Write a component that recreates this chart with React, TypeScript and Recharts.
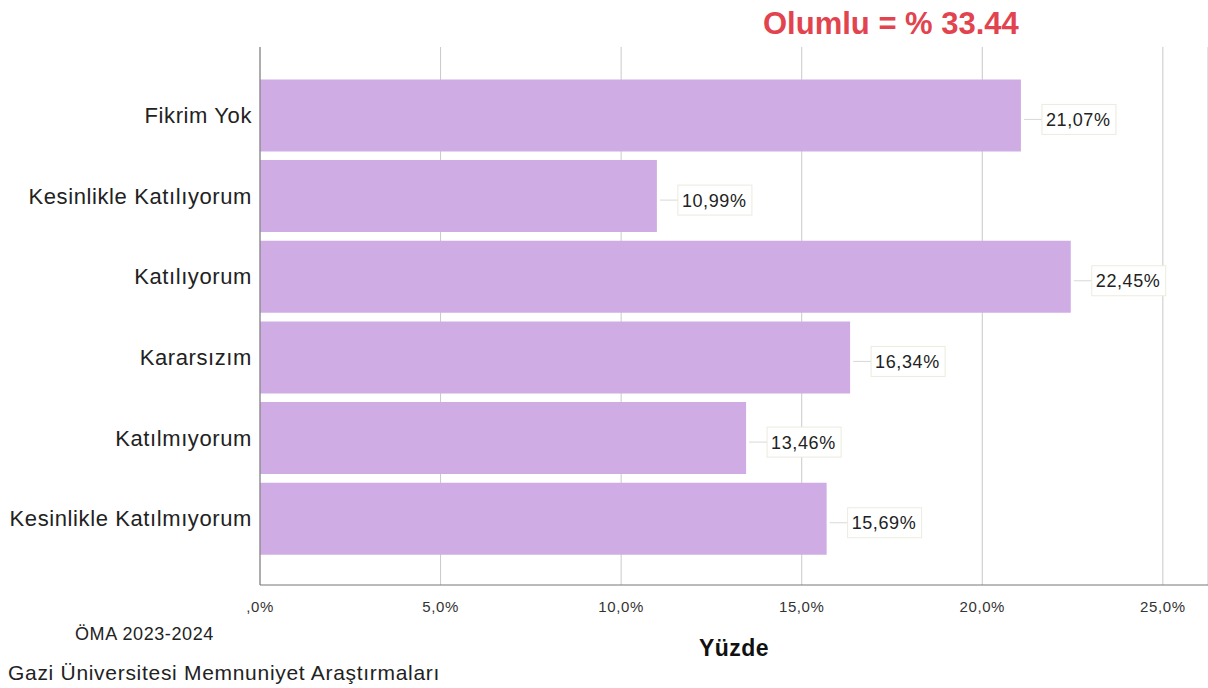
import { BarChart, Bar, XAxis, YAxis, CartesianGrid, LabelList } from "recharts";

const categories = [
  "Fikrim Yok",
  "Kesinlikle Katılıyorum",
  "Katılıyorum",
  "Kararsızım",
  "Katılmıyorum",
  "Kesinlikle Katılmıyorum",
];
const percents = [21.07, 10.99, 22.45, 16.34, 13.46, 15.69];
const xTicks = [0, 5, 10, 15, 20, 25];

const data = categories.map((name, i) => ({ name, value: percents[i] }));

const font = "'Liberation Sans', Arial, sans-serif";

const tickFmt = (v: number) => (v === 0 ? ",0%" : v.toFixed(1).replace(".", ",") + "%");

const ValueTag = (props: any) => {
  const { x, y, width, height, value } = props;
  const ex = x + width;
  const cy = y + height / 2 + 4;
  return (
    <g>
      <line x1={ex + 3} x2={ex + 21} y1={cy} y2={cy} stroke="#d8d8d8" />
      <rect x={ex + 21} y={cy - 15} width={74} height={30} fill="#fff" stroke="#ebebdf" />
      <text
        x={ex + 25}
        y={cy + 6.5}
        fontSize={18}
        fontFamily={font}
        letterSpacing={0.6}
        fill="#222"
      >
        {value.toFixed(2).replace(".", ",")}%
      </text>
    </g>
  );
};

const App = () => {
  return (
    <div style={{ position: "absolute", left: 0, top: 0, width: 1208, height: 688, background: "#fff" }}>
      <BarChart
        width={1208}
        height={688}
        data={data}
        layout="vertical"
        margin={{ top: 47, right: 0, bottom: 23, left: 5 }}
        barCategoryGap="5.5%"
      >
        <CartesianGrid horizontal={false} stroke="#c9c9c9" />
        <XAxis
          type="number"
          dataKey="value"
          domain={[0, 26.25]}
          ticks={xTicks}
          tickFormatter={tickFmt}
          axisLine={{ stroke: "#777" }}
          tickLine={false}
          tickSize={0}
          tickMargin={16}
          height={80}
          tick={{ fontSize: 15, fontFamily: font, fill: "#333", letterSpacing: 0.6 }}
          label={{
            value: "Yüzde",
            position: "insideBottom",
            offset: 9,
            style: { fontSize: 23, fontWeight: "bold", fontFamily: font, fill: "#111", letterSpacing: 0.5 },
          }}
        />
        <YAxis
          type="category"
          dataKey="name"
          width={255}
          padding={{ top: 28, bottom: 26 }}
          axisLine={{ stroke: "#777" }}
          tickLine={false}
          tickSize={0}
          tickMargin={8}
          tick={{ fontSize: 22, fontFamily: font, fill: "#222", letterSpacing: 0.6 }}
        />
        <Bar dataKey="value" fill="#cfade4" isAnimationActive={false}>
          <LabelList dataKey="value" content={<ValueTag />} />
        </Bar>
      </BarChart>
      <svg
        width={1208}
        height={688}
        style={{ position: "absolute", left: 0, top: 0, pointerEvents: "none" }}
      >
        <text x={763} y={34} fontSize={31} fontWeight="bold" fontFamily={font} fill="#e2444f">
          Olumlu = % 33.44
        </text>
        <text x={75} y={640} fontSize={18} fontFamily={font} letterSpacing={0.6} fill="#222">
          ÖMA 2023-2024
        </text>
        <text x={8} y={680} fontSize={21} fontFamily={font} letterSpacing={0.7} fill="#222">
          Gazi Üniversitesi Memnuniyet Araştırmaları
        </text>
      </svg>
    </div>
  );
};

export default App;
